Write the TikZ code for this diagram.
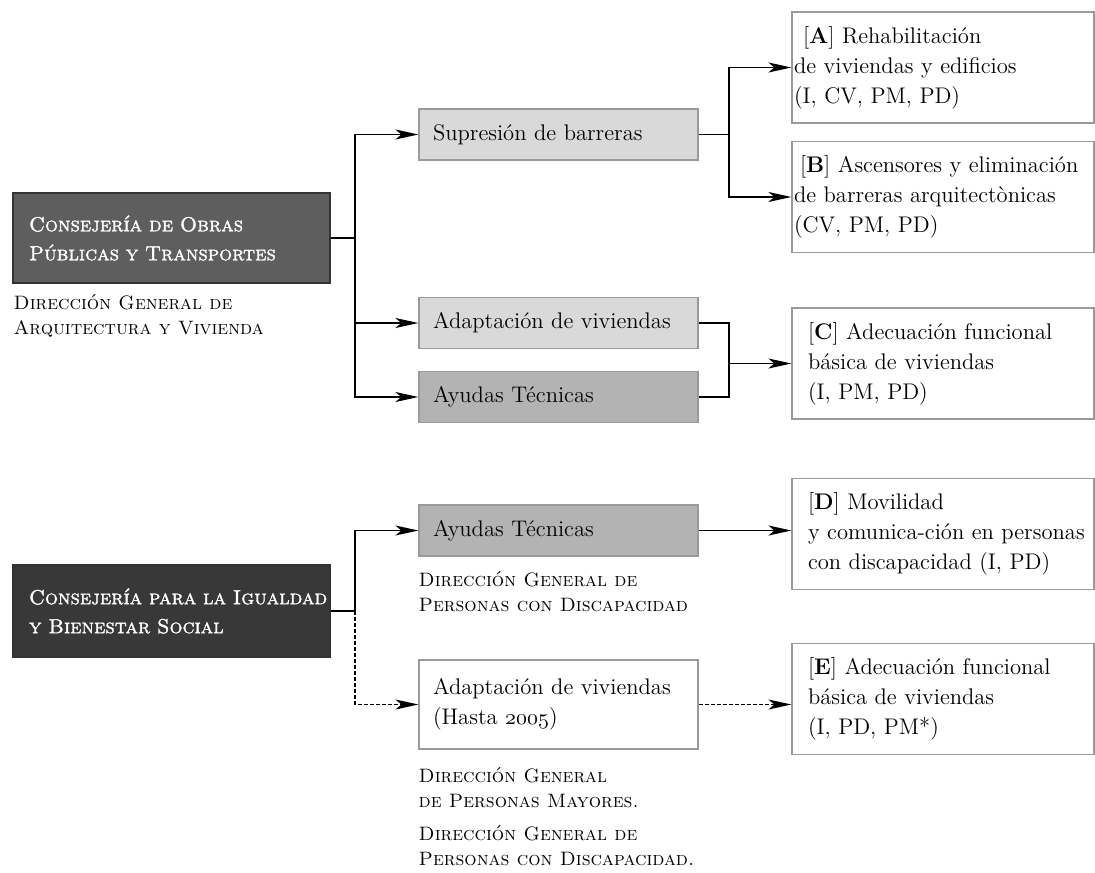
\documentclass[tikz,border=0pt]{standalone}
\usepackage{fontspec}
\usetikzlibrary{arrows.meta}

\newfontfamily\headsc{lmromancaps10-regular}[Extension=.otf, FakeBold=1.6]
\newcommand\osnum[1]{{\usefont{OML}{cmm}{m}{it}#1}}

\definecolor{obrasfill}{HTML}{5E5E5E}
\definecolor{igualfill}{HTML}{383838}
\definecolor{lightfill}{HTML}{D9D9D9}
\definecolor{midfill}{HTML}{B3B3B3}
\definecolor{boxline}{HTML}{9A9A9A}

\tikzset{
  txt/.style={font=\fontsize{11.3}{15}\selectfont},
  head/.style={draw=black!80, line width=0.6pt, text=white, align=left,
    minimum width=158.5pt, text width=142.5pt, inner xsep=8pt,
    font=\fontsize{10.2}{14.5}\selectfont\headsc},
  midbox/.style={txt, draw=boxline, line width=0.6pt, align=left,
    minimum width=139.5pt, text width=125.5pt, inner xsep=7pt, minimum height=25.5pt},
  recbox/.style={txt, draw=boxline, line width=0.6pt, align=left, fill=white,
    minimum width=151pt, text width=135pt, inner xsep=8pt, minimum height=55.5pt},
  dg/.style={anchor=north west, inner sep=0pt, align=left,
    font=\fontsize{9.7}{12.5}\selectfont\scshape},
  arr/.style={-{Stealth[length=11.5pt,width=5pt,inset=3pt]}},
}

\begin{document}
\begin{tikzpicture}[x=0.5pt,y=-0.5pt,line width=0.7pt]
\useasboundingbox (0,0) rectangle (1095,872);

% first consejeria
\node[head, fill=obrasfill, minimum height=45pt] (obras) at (171.5,238)
  {Consejería de Obras\\Públicas y Transportes};
\node[dg] (dgav) at (13,294) {Dirección General de\\Arquitectura y Vivienda};

\node[midbox, fill=lightfill] (supres) at (558.5,134.5) {Supresión de barreras};
\node[midbox, fill=lightfill] (adapt) at (558.5,323) {Adaptación de viviendas};
\node[midbox, fill=midfill] (ayudas) at (558.5,397) {Ayudas Técnicas};

\node[recbox, inner xsep=1pt, text width=149pt] (recA) at (943,67.5)
  {\hspace*{4.5pt}[\textbf{A}] Rehabilitación\\de viviendas y edificios\\(I, CV, PM, PD)};
\node[recbox, inner xsep=1pt, text width=149pt] (recB) at (943,197)
  {\hspace*{3pt}[\textbf{B}] Ascensores y eliminación\\de barreras arquitectònicas\\(CV, PM, PD)};
\node[recbox] (recC) at (943,363.5)
  {[\textbf{C}] Adecuación funcional\\básica de viviendas\\(I, PM, PD)};

\coordinate (t1) at (355,238);
\coordinate (b1) at (729,134.5);
\coordinate (b2) at (729,363.5);
\draw (obras.east) -- (t1);
\draw[arr] (t1) |- (supres.west);
\draw[arr] (t1) |- (adapt.west);
\draw[arr] (t1) |- (ayudas.west);
\draw (supres.east) -- (b1);
\draw[arr] (b1) |- (recA.west);
\draw[arr] (b1) |- (recB.west);
\draw (adapt.east) -| (b2) |- (ayudas.east);
\draw[arr] (b2) -- (recC.west);

% second consejeria
\node[head, fill=igualfill, minimum height=46pt] (igual) at (171.5,611)
  {\mbox{Consejería para la Igualdad}\\y Bienestar Social};

\node[midbox, fill=midfill] (ayudas2) at (558.5,530.5) {Ayudas Técnicas};
\node[dg] (dgpd) at (418,571) {Dirección General de\\Personas con Discapacidad};
\node[midbox, fill=white, minimum height=44.5pt] (adapt2) at (558.5,704.5)
  {Adaptación de viviendas\\(Hasta \osnum{2005})};
\node[dg] (dgpm) at (418,767) {Dirección General\\de Personas Mayores.};
\node[dg] (dgpd2) at (418,825) {Dirección General de\\Personas con Discapacidad.};

\node[recbox] (recD) at (943,534)
  {[\textbf{D}] Movilidad\\\mbox{y comunica-ción en personas}\\con discapacidad (I, PD)};
\node[recbox] (recE) at (943,699)
  {[\textbf{E}] Adecuación funcional\\básica de viviendas\\(I, PD, PM*)};

\coordinate (t2) at (355,611);
\draw (igual.east) -- (t2);
\draw[arr] (t2) |- (ayudas2.west);
\draw[arr, dash pattern=on 2pt off 1pt] (t2) |- (adapt2.west);
\draw[arr] (ayudas2.east) -- (ayudas2.east -| recD.west);
\draw[arr, dash pattern=on 2pt off 1pt] (adapt2.east) -- (adapt2.east -| recE.west);
\end{tikzpicture}
\end{document}
